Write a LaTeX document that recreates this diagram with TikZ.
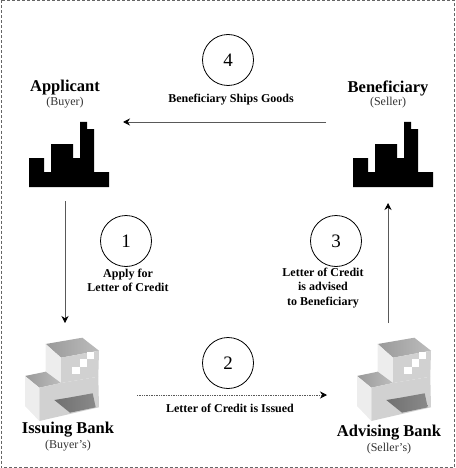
\documentclass[tikz,border=0pt]{standalone}
\usepackage{fontspec}
\setmainfont{Liberation Serif}
\usetikzlibrary{arrows.meta, positioning}

\definecolor{bankSide}{gray}{0.93}
\definecolor{bankFront}{gray}{0.82}

\begin{document}
\begin{tikzpicture}[
    x=1pt, y=-1pt,
    >={Stealth[length=7pt,width=7pt,color=black]},
    step num/.style={
        circle, draw, line width=0.8pt, minimum size=51pt, inner sep=0pt,
        font=\fontsize{19}{19}\selectfont
    },
    party/.style={font=\fontsize{16.5}{17}\selectfont\bfseries},
    role/.style={font=\fontsize{12}{13}\selectfont, text=black!80},
    lbl/.style={font=\fontsize{12}{14.5}\selectfont\bfseries, align=center},
    site/.style={minimum width=80pt, minimum height=65pt, inner sep=0pt, outer sep=0pt},
    bank site/.style={minimum width=74pt, minimum height=84pt, inner sep=0pt, outer sep=0pt},
    flow/.style={->, draw=black!65, line width=0.7pt},
    roof/.style={left color=black!40, right color=black!26},
    factory/.pic={
        \fill[black] (-40,32.5) -- (-40,3.5) -- (-25,3.5) -- (-25,17.5) -- (-18,17.5)
            -- (-18,-10.5) -- (4,-10.5) -- (4,3.5) -- (11,3.5) -- (11,-32.5) -- (18,-32.5)
            -- (18,-25.5) -- (25,-25.5) -- (25,17.5) -- (40,17.5) -- (40,32.5) -- cycle;
    },
    bank/.pic={
        % upper block
        \shade[roof] (-23.3,-42) -- (13.3,-48.3) -- (30,-35.3) -- (-8,-28.3) -- cycle;
        \fill[bankSide] (-23.3,-42) -- (-8,-28.3) -- (-8,-3) -- (-23.3,-11) -- cycle;
        \fill[bankFront] (-8,-28.3) -- (30,-35.3) -- (29.3,-9.3) -- (-8,-3) -- cycle;
        \fill[white] (3.3,-19.3) rectangle (11,-12);
        \fill[white] (11,-26.7) rectangle (18.3,-19.3);
        \fill[white] (18.3,-34.3) rectangle (25.3,-26.7);
        % lower block
        \shade[roof] (-44,-10) -- (-23.3,-14.3) -- (-8,-3) -- (-29.7,1.7) -- cycle;
        \fill[bankSide] (-44,-10) -- (-29.7,1.7) -- (-29.7,35) -- (-44,20) -- cycle;
        \fill[bankFront] (-29.7,1.7) -- (-8,-3) -- (29.3,-9.3) -- (30,21.3) -- (-29.7,35) -- cycle;
        \shade[left color=black!56, right color=black!46]
            (-14.7,14) -- (-0.7,11.7) -- (23.7,7.3) -- (26.7,21.3) -- (1,26.7) -- cycle;
    }
]
\useasboundingbox (0,0) rectangle (455,468);
\draw[densely dashed, draw=black!60, line width=0.6pt] (1,0.5) rectangle (454,467);

% parties
\node[site] (applicant) at (69,154.5) {};
\node[site] (beneficiary) at (393,154.5) {};
\node[bank site] (issuing) at (69,386) {};
\node[bank site] (advising) at (401,386) {};
\pic at (applicant) {factory};
\pic at (beneficiary) {factory};
\pic at (issuing) {bank};
\pic at (advising) {bank};

\node[party] (applicantName) at (65,88) {Applicant};
\node[role] (applicantRole) at (65,103) {(Buyer)};
\node[party] (beneficiaryName) at (388,88) {Beneficiary};
\node[role] (beneficiaryRole) at (388,103) {(Seller)};
\node[party] (issuingName) at (68,430) {Issuing Bank};
\node[role] (issuingRole) at (68,446) {(Buyer's)};
\node[party] (advisingName) at (389,433) {Advising Bank};
\node[role] (advisingRole) at (389,449) {(Seller's)};

% numbered steps
\node[step num] (stepOne) at (126,241) {1};
\node[step num] (stepTwo) at (228,363) {2};
\node[step num] (stepThree) at (336,241) {3};
\node[step num] (stepFour) at (228,60) {4};

\node[lbl] (applyLbl) at (128,280.5) {Apply for\\Letter of Credit};
\node[lbl] (issuedLbl) at (230,408) {Letter of Credit is Issued};
\node[lbl] (advisedLbl) at (323,288) {Letter of Credit\\is advised\\to Beneficiary};
\node[lbl] (shipsLbl) at (231,99.5) {Beneficiary Ships Goods};

% flows
\draw[flow] ([xshift=-4pt,yshift=-14pt]applicant.south) -- ([xshift=-4pt,yshift=21pt]issuing.north);
\draw[flow, densely dotted] ([xshift=31pt,yshift=-9pt]issuing.east) -- ([xshift=-37pt,yshift=-9pt]advising.west);
\draw[flow] ([xshift=-13pt,yshift=21pt]advising.north) -- ([xshift=-5pt,yshift=-16pt]beneficiary.south);
\draw[flow] ([xshift=-27pt]beneficiary.north west) -- ([xshift=14pt]applicant.north east);
\end{tikzpicture}
\end{document}
